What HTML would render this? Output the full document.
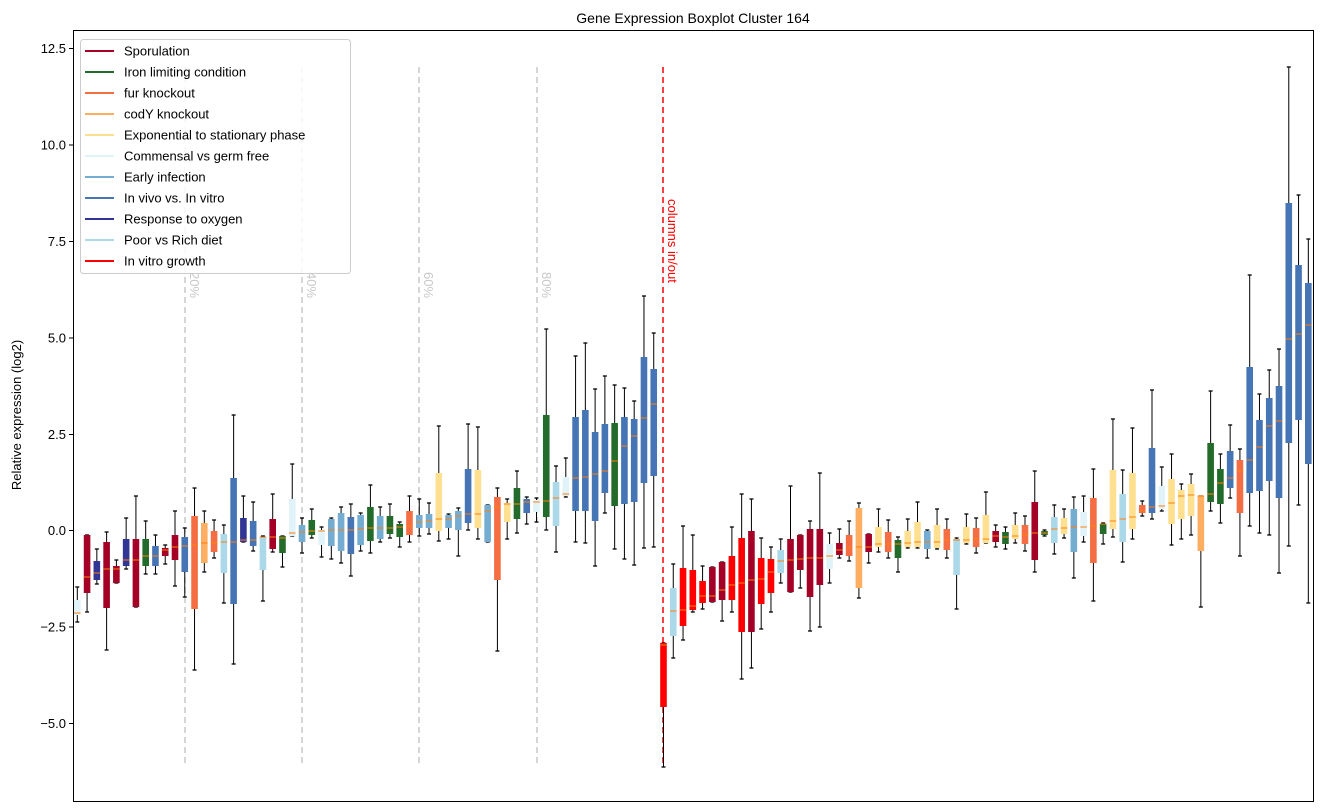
<!DOCTYPE html>
<html><head><meta charset="utf-8"><style>
html,body{margin:0;padding:0;background:#fff;}
svg{display:block;font-family:"Liberation Sans","DejaVu Sans",sans-serif;}
</style></head><body>
<svg id="s" width="1322" height="812" xmlns="http://www.w3.org/2000/svg">
<rect x="0" y="0" width="1322" height="812" fill="#fff"/>
<text x="693" y="23" font-size="14" text-anchor="middle">Gene Expression Boxplot Cluster 164</text>
<text transform="translate(21,415) rotate(-90)" font-size="13" text-anchor="middle">Relative expression (log2)</text>
<g id="g"></g>
<rect x="73.5" y="30.5" width="1240" height="771" fill="none" stroke="#000" stroke-width="1"/>
</svg>
<script>
var C={S:"#a50026",I:"#236b2a",F:"#f46d43",Y:"#fdae61",E:"#fee090",M:"#e0f3f8",A:"#74add1",V:"#4575b4",O:"#313695",P:"#abd9e9",R:"#ff0000"};
var D=[
["M",587,600,613,615,622],["S",535,535,577,593,612],["O",549,561,573,580,584],["S",532,542,569,608,650],["S",560,566,569,583,583],
["O",518,539,560,566,569],["S",496,539,560,607,607],["I",521,539,556,566,574],["V",535,546,556,566,574],["S",545,548,550,556,564],
["S",511,535,547,560,586],["V",528,537,546,572,597],["F",488,516,545,609,670],["Y",511,523,543,563,572],["F",520,531,543,552,558],
["P",525,534,542,573,603],["V",415,478,542,604,664],["O",496,518,540,542,542],["V",502,521,540,546,551],["P",536,537,537,570,601],
["S",494,519,537,549,552],["I",536,536,538,553,567],["M",464,499,533,536,536],["A",518,525,532,542,553],["I",509,520,531,535,538],
["M",527,530,531,545,557],["A",518,519,530,546,559],["A",507,513,530,551,563],["V",504,517,530,554,576],["A",513,515,529,545,551],
["I",485,507,528,541,553],["A",507,516,528,539,542],["I",504,516,528,534,538],["I",522,524,527,537,547],["F",496,511,526,535,542],
["A",499,515,522,528,536],["A",503,514,521,528,534],["E",426,473,519,531,541],["A",514,515,519,528,539],["A",508,511,516,530,556],
["V",424,469,514,523,530],["E",427,470,514,528,539],["A",505,505,511,542,542],["F",488,497,507,580,651],["E",499,503,504,522,539],
["I",471,488,504,519,533],["V",497,499,502,513,524],["M",498,500,502,512,522],["I",329,415,501,517,530],["P",466,482,498,526,552],
["M",458,477,494,496,497],["V",356,417,478,511,542],["V",343,410,477,511,543],["V",389,432,474,521,566],["V",376,424,471,493,513],
["I",385,423,461,506,549],["V",388,417,446,504,559],["V",401,419,436,502,565],["V",296,357,418,483,548],["V",333,369,404,476,547],
["R",643,643,645,707,767],["P",564,588,611,636,658],["R",526,568,610,626,640],["R",535,570,606,610,612],["R",566,581,596,603,609],
["S",567,567,596,602,602],["S",562,562,590,600,621],["R",527,556,585,600,612],["R",494,538,583,632,679],["S",499,531,580,632,668],
["R",538,558,579,604,629],["R",547,559,572,593,612],["P",539,550,561,573,583],["S",486,539,560,592,592],["S",535,535,559,570,588],
["S",521,529,558,597,631],["S",473,529,558,585,627],["M",533,544,556,569,583],["S",529,543,550,555,558],["F",521,535,548,556,561],
["Y",503,508,547,588,598],["S",534,534,547,552,563],["E",509,527,544,547,552],["F",520,532,544,552,558],["I",537,540,544,558,572],
["E",519,531,543,547,548],["E",502,522,542,547,548],["A",530,531,542,549,558],["E",509,525,542,548,549],["F",519,529,540,550,558],
["P",538,539,540,575,609],["E",514,527,540,543,544],["F",518,528,539,547,553],["E",492,515,539,543,543],["S",525,531,536,542,547],
["I",527,532,537,544,549],["E",513,525,536,539,543],["F",516,525,535,544,551],["S",471,502,533,560,572],["I",530,531,533,535,536],
["P",505,517,529,543,554],["E",509,518,528,534,538],["A",497,509,527,552,578],["M",496,512,527,536,542],["F",469,498,526,563,601],
["I",523,524,524,534,544],["E",419,470,521,529,537],["P",470,494,519,542,562],["E",428,473,517,529,539],["F",501,505,511,513,516],
["V",390,448,507,513,519],["M",467,486,506,509,511],["E",454,479,503,524,545],["E",484,490,496,519,539],["E",474,484,495,516,535],
["Y",496,496,496,551,607],["I",391,443,494,502,511],["I",454,469,483,504,523],["V",425,451,478,488,498],["F",449,460,471,513,556],
["V",275,367,460,493,526],["V",394,420,447,491,533],["V",370,398,426,481,535],["V",349,386,421,498,573],["V",67,203,339,443,546],
["V",195,265,334,420,505],["V",239,283,325,464,603]
];
var h="";
// dashed lines
[185,302,419,537].forEach(function(x,i){
 h+='<line x1="'+x+'" y1="67" x2="'+x+'" y2="767" stroke="#c8c8c8" stroke-width="1.5" stroke-dasharray="6,4"/>';
 h+='<text transform="translate('+(x+5)+',272) rotate(90)" font-size="13" fill="#c8c8c8">'+((i+1)*20)+'%</text>';
});
h+='<line x1="663" y1="67" x2="663" y2="767" stroke="#ff0000" stroke-width="1.5" stroke-dasharray="6,4"/>';
h+='<text transform="translate(668,199) rotate(90)" font-size="13" fill="#ff0000">columns in/out</text>';
// ticks
var ticks=[["12.5",48.5],["10.0",145],["7.5",241.5],["5.0",338],["2.5",434.5],["0.0",530.5],["\u22122.5",627],["\u22125.0",723.5]];
ticks.forEach(function(t){
 h+='<line x1="69" y1="'+t[1]+'" x2="73" y2="'+t[1]+'" stroke="#000"/>';
 h+='<text x="66" y="'+(t[1]+4.5)+'" font-size="13" text-anchor="end">'+t[0]+'</text>';
});
D.forEach(function(d,i){
 var x=77.3+i*9.77, w=6.6, c=C[d[0]];
 h+='<line x1="'+x+'" y1="'+d[1]+'" x2="'+x+'" y2="'+d[5]+'" stroke="#000" stroke-width="1"/>';
 h+='<line x1="'+(x-2)+'" y1="'+d[1]+'" x2="'+(x+2)+'" y2="'+d[1]+'" stroke="#000" stroke-width="1.3"/>';
 h+='<line x1="'+(x-2)+'" y1="'+d[5]+'" x2="'+(x+2)+'" y2="'+d[5]+'" stroke="#000" stroke-width="1.3"/>';
 var hh=Math.max(d[4]-d[2],1);
 h+='<rect x="'+(x-w/2)+'" y="'+d[2]+'" width="'+w+'" height="'+hh+'" fill="'+c+'"/>';
 h+='<line x1="'+(x-w/2)+'" y1="'+d[3]+'" x2="'+(x+w/2)+'" y2="'+d[3]+'" stroke="#ff7f0e" stroke-width="1"/>';
});
// legend
var L=[["Sporulation","S"],["Iron limiting condition","I"],["fur knockout","F"],["codY knockout","Y"],["Exponential to stationary phase","E"],["Commensal vs germ free","M"],["Early infection","A"],["In vivo vs. In vitro","V"],["Response to oxygen","O"],["Poor vs Rich diet","P"],["In vitro growth","R"]];
h+='<rect x="80.5" y="39.5" width="270" height="234" rx="3" fill="#fff" fill-opacity="0.85" stroke="#ccc"/>';
L.forEach(function(l,i){
 var y=51+i*21;
 h+='<line x1="85" y1="'+y+'" x2="114" y2="'+y+'" stroke="'+C[l[1]]+'" stroke-width="2"/>';
 h+='<text x="124" y="'+(y+4.5)+'" font-size="13">'+l[0]+'</text>';
});
document.getElementById("g").innerHTML=h;
</script>
</body></html>
